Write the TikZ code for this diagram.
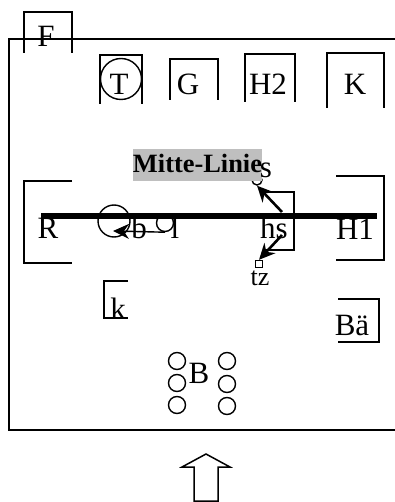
\documentclass[tikz,border=0pt]{standalone}
\usepackage{fontspec}
\setmainfont{Liberation Serif}
\usetikzlibrary{arrows.meta}
\begin{document}
\begin{tikzpicture}[
  x=1pt, y=-1pt,
  lbl/.style={font=\fontsize{31}{34}\selectfont, inner sep=0pt, anchor=base},
  smalllbl/.style={font=\fontsize{26}{29}\selectfont, inner sep=0pt, anchor=base},
  brk/.style={line width=1.5pt},
  ring/.style={circle, draw, line width=1.4pt, inner sep=0pt, minimum size=17pt},
  arr/.style={-{Stealth[length=16pt,width=15pt]}, line width=2.6pt}
]
\useasboundingbox (0,0) rectangle (395,502);
% field
\draw[line width=1.9pt] (395,39) -- (9,39) -- (9,430) -- (395,430);
% top row
\draw[brk] (24,53) -- (24,12) -- (72,12) -- (72,53);
\draw[brk] (100,104) -- (100,55) -- (142,55) -- (142,104);
\draw[brk] (170,100) -- (170,59) -- (218,59) -- (218,100);
\draw[brk] (245,102) -- (245,54) -- (295,54) -- (295,102);
\draw[brk] (327,108) -- (327,53) -- (384,53) -- (384,108);
% sides
\draw[brk] (72,181) -- (24,181) -- (24,263) -- (72,263);
\draw[brk] (336,176) -- (384,176) -- (384,260) -- (336,260);
\draw[brk] (128,281) -- (104,281) -- (104,318) -- (128,318);
\draw[brk] (338,299) -- (379,299) -- (379,342) -- (338,342);
\draw[brk] (268,192) -- (294,192) -- (294,250) -- (263,250);
% small marks
\node[ring, minimum size=10pt] (sring) at (257,180) {};
\node[draw, line width=1.4pt, inner sep=0pt, minimum size=7pt] (tzbox) at (259,264) {};
% middle line
\node[fill=black!25, minimum width=129pt, minimum height=32pt, inner sep=0pt] (mitte) at (197.5,165) {};
\node[font=\fontsize{26.4}{30}\selectfont\bfseries, inner sep=0pt, anchor=base] (mittetxt) at (197.5,173) {Mitte-Linie};
\coordinate (lineL) at (41,216);
\coordinate (lineR) at (377,216);
\draw[line width=5.5pt] (lineL) -- (lineR);
% players
\node[ring, minimum size=41pt] (tring) at (121,79) {};
\node[ring, minimum size=32pt] (bigring) at (114,221) {};
\node[ring, minimum size=17pt] (lring) at (165,223) {};
\coordinate (btip) at (113,231);
\draw[-{Stealth[length=16pt,width=15pt]}, line width=1.4pt] (lring.south) -- (btip);
\coordinate (hsa) at (282,212);
\coordinate (hsb) at (282,235);
\draw[arr] (hsa) -- (sring.south);
\draw[arr] (hsb) -- (tzbox.north);
% labels
\node[lbl] (f) at (46,47) {F};
\node[lbl] (t) at (119,95) {T};
\node[lbl] (g) at (188,95) {G};
\node[lbl] (h2) at (268,95) {H2};
\node[lbl] (kk) at (355,95) {K};
\node[lbl] (r) at (48,238) {R};
\node[lbl] (b) at (139,238) {b};
\node[lbl] (l) at (175,238) {l};
\node[lbl] (hs) at (274,238) {hs};
\node[lbl] (h1) at (355,239) {H1};
\node[lbl] (k) at (118,319) {k};
\node[lbl] (bae) at (352,335) {Bä};
\node[lbl] (s) at (266,178) {s};
\node[smalllbl] (tz) at (260,285) {tz};
% ball pool
\node[lbl] (bb) at (199,383) {B};
\node[ring] (b1) at (177,361) {};
\node[ring] (b2) at (177,383) {};
\node[ring] (b3) at (177,405) {};
\node[ring] (b4) at (227,361) {};
\node[ring] (b5) at (227,384) {};
\node[ring] (b6) at (227,406) {};
% direction
\draw[line width=1.5pt] (194,501) -- (194,467) -- (182,467) -- (206,454) -- (230,467) -- (218,467) -- (218,501) -- cycle;
\end{tikzpicture}
\end{document}
